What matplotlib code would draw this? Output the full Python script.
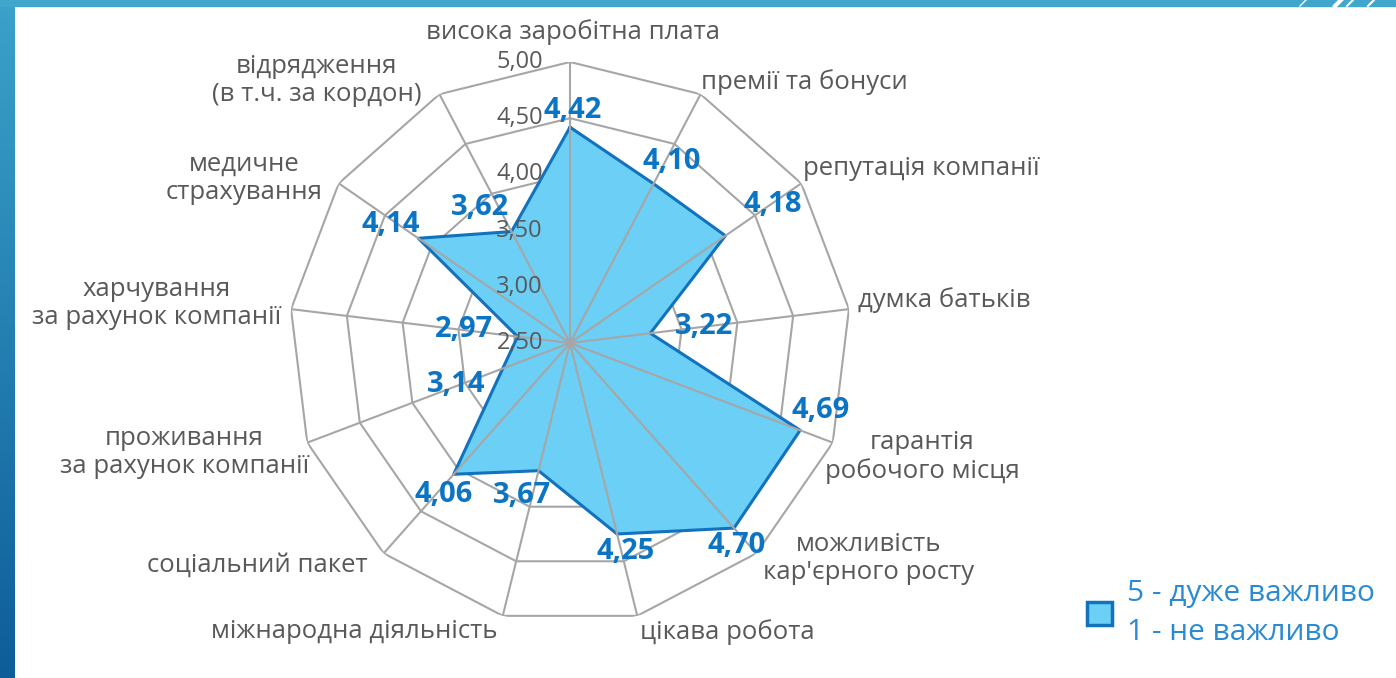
import numpy as np
import matplotlib.pyplot as plt
from matplotlib.patches import Rectangle, Patch
from matplotlib.lines import Line2D
from matplotlib.colors import LinearSegmentedColormap

# дані діаграми
categories = [
    'висока заробітна плата',
    'премії та бонуси',
    'репутація компанії',
    'думка батьків',
    'гарантія\nробочого місця',
    'можливість\nкар\'єрного росту',
    'цікава робота',
    'міжнародна діяльність',
    'соціальний пакет',
    'проживання\nза рахунок компанії',
    'харчування\nза рахунок компанії',
    'медичне\nстрахування',
    'відрядження\n(в т.ч. за кордон)',
]
values = [4.42, 4.10, 4.18, 3.22, 4.69, 4.70, 4.25, 3.67, 4.06, 3.14, 2.97, 4.14, 3.62]
r_ticks = [2.5, 3.0, 3.5, 4.0, 4.5, 5.0]
r_tick_labels = ['2,50', '3,00', '3,50', '4,00', '4,50', '5,00']
legend_lines = ['5 - дуже важливо', '1 - не важливо']

# зсув підписів (пікселі) відносно вершини / точки
category_label_offsets = [(3, 30), (0, 12), (2, 15), (9, 9), (-8, -14), (7, -5), (3, -16),
                          (-5, -16), (-16, -12), (2, -10), (-10, 6), (-16, 5), (-18, 14)]
value_label_offsets = [(3, 17), (18, 22), (47, 31), (54, 7), (20, 20), (3, -17), (9, -18),
                       (-17, -25), (-10, -20), (-47, -16), (-54, 7), (-28, 14), (-31, 24)]

GRID = '#a6a6a6'
FILL = '#6ccff6'
EDGE = '#1272bd'
TEXT = '#595959'
VAL = '#0b74c3'
LEG = '#2a8ad2'


def main():
    plt.rcParams['font.family'] = ['Open Sans', 'DejaVu Sans']

    fig = plt.figure(figsize=(13.96, 6.78), dpi=100)
    W, H = 1396, 678

    # рамка слайду
    grad = np.linspace(0, 1, 256).reshape(-1, 1)
    bax = fig.add_axes([0, 0, 15 / W, 1])
    cmap = LinearSegmentedColormap.from_list('side', ['#3ba2ca', '#0e5d99'])
    bax.imshow(grad, aspect='auto', cmap=cmap, extent=[0, 1, 0, 1], origin='upper')
    bax.set_axis_off()
    fig.patches.append(Rectangle((0, 1 - 6 / H), 1, 6 / H, transform=fig.transFigure,
                                 color='#41a6cc', zorder=5))
    for x0, lw in [(1300, 1.0), (1335, 3.0), (1347, 1.5), (1368, 1.5)]:
        fig.lines.append(Line2D([x0 / W, (x0 + 6) / W], [1 - 6 / H, 1], transform=fig.transFigure,
                                color='white', lw=lw, zorder=6))

    cx, cy, R = 570, 343, 281
    ax = fig.add_axes([(cx - R) / W, (H - cy - R) / H, 2 * R / W, 2 * R / H], projection='polar')
    ax.set_theta_zero_location('N')
    ax.set_theta_direction(-1)

    n = len(categories)
    angles = np.arange(n) * 2 * np.pi / n
    ang_c = np.append(angles, angles[0])
    val_c = np.append(values, values[0])

    # сітка-многокутник
    for t in r_ticks[1:]:
        ax.plot(ang_c, [t] * (n + 1), color=GRID, lw=1.5, zorder=1)
    ax.fill(ang_c, val_c, color=FILL, zorder=2)
    ax.plot(ang_c, val_c, color=EDGE, lw=2.2, zorder=3)
    for a in angles:
        ax.plot([a, a], [r_ticks[0], r_ticks[-1]], color=GRID, lw=1.5, zorder=4)

    ax.set_ylim(r_ticks[0], r_ticks[-1])
    ax.set_axis_off()

    # підписи шкали
    for t, lab in zip(r_ticks, r_tick_labels):
        ax.annotate(lab, xy=(0, t), xytext=(-27, 0), textcoords='offset pixels',
                    ha='right', va='center', fontsize=17, color=TEXT, zorder=6)

    # підписи категорій
    for a, lab, off in zip(angles, categories, category_label_offsets):
        s = np.sin(a)
        if abs(s) < 0.1:
            ha = 'center'
        else:
            ha = 'left' if s > 0 else 'right'
        ax.annotate(lab, xy=(a, r_ticks[-1]), xytext=off, textcoords='offset pixels',
                    ha=ha, va='center', multialignment='center', fontsize=18.5,
                    color=TEXT, linespacing=1.17)

    # підписи значень
    for a, v, off in zip(angles, values, value_label_offsets):
        ax.annotate(f'{v:.2f}'.replace('.', ','), xy=(a, v), xytext=off,
                    textcoords='offset pixels', ha='center', va='center',
                    fontsize=21, fontweight='bold', color=VAL, zorder=7)

    handle = Patch(facecolor=FILL, edgecolor=EDGE, lw=2.5)
    leg = fig.legend([handle], ['\n'.join(legend_lines)], loc='center left',
                     bbox_to_anchor=(1087 / W, (H - 613) / H), frameon=False,
                     fontsize=21.5, labelcolor=LEG, handlelength=0.83, handleheight=0.83,
                     handletextpad=0.5, borderpad=0, borderaxespad=0)
    for txt in leg.get_texts():
        txt.set_linespacing(1.42)

    fig.savefig('out.png', dpi=100)


if __name__ == '__main__':
    main()
